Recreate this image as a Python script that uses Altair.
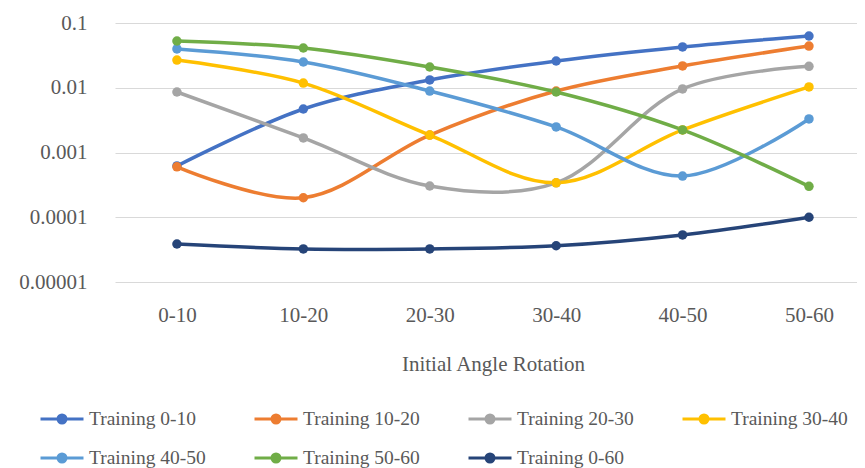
import altair as alt
import pandas as pd

categories = ["0-10", "10-20", "20-30", "30-40", "40-50", "50-60"]
series_names = ["Training 0-10", "Training 10-20", "Training 20-30", "Training 30-40",
                "Training 40-50", "Training 50-60", "Training 0-60"]
colors = ["#4472C4", "#ED7D31", "#A5A5A5", "#FFC000", "#5B9BD5", "#70AD47", "#264478"]

training_0_10 = [0.00062, 0.0047, 0.0132, 0.0259, 0.0427, 0.063]
training_10_20 = [0.0006, 0.0002, 0.00186, 0.0089, 0.0217, 0.044]
training_20_30 = [0.0086, 0.00168, 0.000304, 0.00034, 0.0096, 0.0214]
training_30_40 = [0.0268, 0.0118, 0.00186, 0.00034, 0.00223, 0.0103]
training_40_50 = [0.0397, 0.025, 0.0089, 0.00248, 0.000433, 0.0033]
training_50_60 = [0.0527, 0.0411, 0.0209, 0.0086, 0.00223, 0.0003]
training_0_60 = [0.0000386, 0.0000324, 0.0000324, 0.0000363, 0.0000533, 0.0001]

y_ticks = [0.00001, 0.0001, 0.001, 0.01, 0.1]

all_series = [training_0_10, training_10_20, training_20_30, training_30_40,
              training_40_50, training_50_60, training_0_60]

rows = []
for name, vals in zip(series_names, all_series):
    for i, (c, v) in enumerate(zip(categories, vals)):
        rows.append({"series": name, "idx": i, "cat": c, "value": v})
df = pd.DataFrame(rows)

FONT = "Liberation Serif"
TXT = "#595959"

cat_array = "[" + ",".join("'" + c + "'" for c in categories) + "]"

legend_path = ("M-1,0H1"
               "M0.186,0A0.186,0.186,0,1,1,-0.186,0A0.186,0.186,0,1,1,0.186,0"
               "M0.07,0A0.07,0.07,0,1,1,-0.07,0A0.07,0.07,0,1,1,0.07,0")

x_enc = alt.X("idx:Q",
              scale=alt.Scale(domain=[-0.49, 5.38], nice=False, zero=False),
              axis=alt.Axis(values=list(range(len(categories))),
                            labelExpr=cat_array + "[datum.value]",
                            grid=False, ticks=False, tickSize=0, domain=False,
                            labelPadding=22, labelFont=FONT, labelFontSize=21,
                            labelColor=TXT, title="Initial Angle Rotation",
                            titleFont=FONT, titleFontSize=21, titleColor=TXT,
                            titleFontWeight="normal", titlePadding=28, titleX=378))
y_enc = alt.Y("value:Q",
              scale=alt.Scale(type="log", domain=[0.00001, 0.1], nice=False),
              axis=alt.Axis(values=y_ticks, format="~g", grid=True,
                            gridColor="#D9D9D9", gridWidth=1, ticks=False, tickSize=0,
                            domain=False, labelPadding=28, labelFont=FONT,
                            labelFontSize=21, labelColor=TXT, title=None))
color_enc = alt.Color("series:N",
                      scale=alt.Scale(domain=series_names, range=colors),
                      legend=alt.Legend(orient="none", legendX=-76, legendY=385,
                                        columns=4, direction="horizontal",
                                        gridAlign="all", title=None,
                                        symbolType=legend_path, symbolSize=1849,
                                        symbolStrokeWidth=3, clipHeight=22,
                                        labelFont=FONT, labelFontSize=19.5,
                                        labelColor=TXT, labelOffset=4,
                                        labelLimit=300, columnPadding=47,
                                        rowPadding=17, symbolOpacity=1))

lines = alt.Chart(df).mark_line(interpolate="catmull-rom", strokeWidth=3.5).encode(
    x=x_enc, y=y_enc, color=color_enc, detail="series:N",
    order="idx:Q")
points = alt.Chart(df).mark_point(filled=True, size=90, opacity=1).encode(
    x="idx:Q", y="value:Q", color=alt.Color("series:N"))

chart = alt.layer(lines, points).properties(
    width=742, height=259,
    autosize=alt.AutoSizeParams(type="none"),
    padding={"left": 107, "top": 15, "right": 0, "bottom": 186},
).configure_view(stroke=None).configure_axis(
    labelFont=FONT, titleFont=FONT
).configure_legend(labelFont=FONT)

chart.save("out.html", embed_options={"renderer": "svg", "actions": False})
